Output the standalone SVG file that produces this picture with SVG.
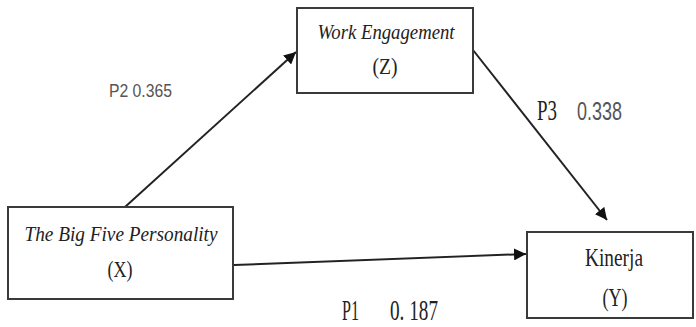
<svg xmlns="http://www.w3.org/2000/svg" width="696" height="327" viewBox="0 0 696 327">
<style>
.box{fill:#fff;stroke:#3a3a3a;stroke-width:2}
.lbl{font-family:"Liberation Serif",serif;fill:#222;text-anchor:middle}
.it{font-style:italic}
.sans{font-family:"Liberation Sans",sans-serif;fill:#555}
.ser{font-family:"Liberation Serif",serif;fill:#222}
.conn{stroke:#222;stroke-width:2;fill:none;marker-end:url(#ah)}
</style>
<defs>
<marker id="ah" viewBox="0 0 10 10" refX="10" refY="5" markerWidth="6" markerHeight="6" orient="auto" markerUnits="strokeWidth">
<path d="M0,0 L10,5 L0,10 z" fill="#111"/>
</marker>
</defs>
<rect width="696" height="327" fill="#fff"/>
<g id="connectors">
<line class="conn" x1="125" y1="207" x2="296" y2="52"/>
<line class="conn" x1="473" y1="50" x2="607" y2="220"/>
<line class="conn" x1="234" y1="265" x2="526" y2="254"/>
</g>
<g id="node-z">
<rect class="box" x="297" y="8" width="176" height="85"/>
<text class="lbl it" x="386" y="39" font-size="22" textLength="137" lengthAdjust="spacingAndGlyphs">Work Engagement</text>
<text class="lbl" x="385" y="74" font-size="24" textLength="25" lengthAdjust="spacingAndGlyphs">(Z)</text>
</g>
<g id="node-x">
<rect class="box" x="8" y="207" width="225" height="92"/>
<text class="lbl it" x="121" y="241" font-size="20" textLength="193" lengthAdjust="spacingAndGlyphs">The Big Five Personality</text>
<text class="lbl" x="120" y="277" font-size="24" textLength="25" lengthAdjust="spacingAndGlyphs">(X)</text>
</g>
<g id="node-y">
<rect class="box" x="527" y="232" width="166" height="86"/>
<text class="lbl" x="614" y="266" font-size="26" textLength="58" lengthAdjust="spacingAndGlyphs">Kinerja</text>
<text class="lbl" x="615" y="306" font-size="26" textLength="25" lengthAdjust="spacingAndGlyphs">(Y)</text>
</g>
<g id="labels">
<text class="sans" x="109" y="97" font-size="19" textLength="63" lengthAdjust="spacingAndGlyphs">P2 0.365</text>
<text class="ser" x="537" y="120" font-size="30" textLength="20" lengthAdjust="spacingAndGlyphs">P3</text>
<text class="sans" x="577" y="120" font-size="26" textLength="45" lengthAdjust="spacingAndGlyphs">0.338</text>
<text class="ser" x="342" y="320" font-size="30" textLength="17" lengthAdjust="spacingAndGlyphs">P1</text>
<text class="ser" x="390" y="320" font-size="30" textLength="48" lengthAdjust="spacingAndGlyphs">0. 187</text>
</g>
</svg>
